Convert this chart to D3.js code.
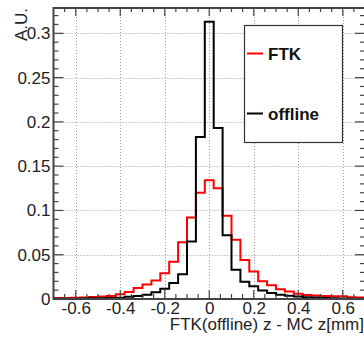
<!DOCTYPE html>
<html>
<head>
<meta charset="utf-8">
<script src="https://cdn.jsdelivr.net/npm/d3@7"></script>
<style>
html,body{margin:0;padding:0;background:#fff;}
svg{display:block;font-family:"Liberation Sans",Arial,Helvetica,sans-serif;}
</style>
</head>
<body>
<svg id="chart" width="364" height="338"></svg>
<script>
// ---- data ----
const binEdges = [-0.70,-0.66,-0.62,-0.58,-0.54,-0.50,-0.46,-0.42,-0.38,-0.34,-0.30,-0.26,-0.22,-0.18,-0.14,-0.10,-0.06,-0.02,
                   0.02,0.06,0.10,0.14,0.18,0.22,0.26,0.30,0.34,0.38,0.42,0.46,0.50,0.54,0.58,0.62,0.66,0.70];
const ftkValues = [0.0012,0.0012,0.0015,0.0018,0.0022,0.0028,0.0035,0.0055,0.008,0.0125,0.0165,0.021,0.029,0.042,0.064,0.092,0.120,
                   0.134,0.125,0.094,0.067,0.044,0.031,0.020,0.0155,0.011,0.0085,0.006,0.0045,0.004,0.0034,0.0032,0.003,0.002,0.0018];
const offlineValues = [0.0003,0.0003,0.0004,0.0005,0.0008,0.0008,0.001,0.0015,0.0025,0.0035,0.0048,0.0075,0.0115,0.018,0.028,0.065,0.183,
                   0.313,0.193,0.072,0.033,0.0195,0.0145,0.0095,0.0068,0.0048,0.0036,0.0027,0.002,0.0018,0.001,0.0008,0.0005,0.0004,0.0003];
const seriesNames = ["FTK","offline"];
const seriesColors = ["#ff0000","#000000"];
const xTickValues = [-0.6,-0.4,-0.2,0,0.2,0.4,0.6];
const xTickLabels = ["-0.6","-0.4","-0.2","0","0.2","0.4","0.6"];
const yTickValues = [0,0.05,0.1,0.15,0.2,0.25,0.3];
const yTickLabels = ["0","0.05","0.1","0.15","0.2","0.25","0.3"];
const xTitle = "FTK(offline) z - MC z[mm]";
const yTitle = "A.U.";

// ---- layout ----
const L = 53.5, R = 365, T = 8, B = 299;
const x = d3.scaleLinear().domain([-0.7, 0.7]).range([L, R]);
const y = d3.scaleLinear().domain([0, 0.3286]).range([B, T]);
const svg = d3.select("#chart");
const axisColor = "#444";
const textColor = "#222";

// grid
const grid = svg.append("g").attr("stroke", "#9a9a9a").attr("stroke-width", 1).attr("stroke-dasharray", "1,2");
xTickValues.forEach(v => grid.append("line").attr("x1", Math.round(x(v)) + 0.5).attr("x2", Math.round(x(v)) + 0.5).attr("y1", T).attr("y2", B));
yTickValues.filter(v => v > 0).forEach(v => grid.append("line").attr("x1", L).attr("x2", R).attr("y1", Math.round(y(v)) + 0.5).attr("y2", Math.round(y(v)) + 0.5));

// clip
svg.append("clipPath").attr("id", "clip").append("rect").attr("x", L).attr("y", T).attr("width", R - L).attr("height", B - T + 1);

// histograms
const line = d3.line().x(d => x(d[0])).y(d => y(d[1]));
function histPts(vals) {
  const pts = [];
  vals.forEach((v, i) => { pts.push([binEdges[i], v]); pts.push([binEdges[i + 1], v]); });
  return pts;
}
const hg = svg.append("g").attr("clip-path", "url(#clip)");
[ftkValues, offlineValues].forEach((vals, k) => {
  hg.append("path").attr("d", line(histPts(vals))).attr("fill", "none")
    .attr("stroke", seriesColors[k]).attr("stroke-width", 2).attr("stroke-linejoin", "miter");
});

// axes ticks (ROOT style, inward on all four sides)
const tk = svg.append("g").attr("stroke", axisColor).attr("stroke-width", 1.2);
const yMinor = d3.range(0, 0.33, 0.01);
yMinor.forEach(v => {
  const major = Math.abs(Math.round(v * 100) % 5) === 0;
  const len = major ? 10 : 5;
  const yy = y(v);
  tk.append("line").attr("x1", L).attr("x2", L + len).attr("y1", yy).attr("y2", yy);
  tk.append("line").attr("x1", R).attr("x2", R - len).attr("y1", yy).attr("y2", yy);
});
const xMinor = d3.range(-0.65, 0.7, 0.05);
xMinor.forEach(v => {
  const major = Math.abs(Math.round(v * 100) % 20) === 0;
  const xx = x(v);
  tk.append("line").attr("x1", xx).attr("x2", xx).attr("y1", B).attr("y2", B - (major ? 9 : 5));
  tk.append("line").attr("x1", xx).attr("x2", xx).attr("y1", T).attr("y2", T + (major ? 8 : 4));
});

// frame
svg.append("rect").attr("x", L).attr("y", T).attr("width", R - L).attr("height", B - T)
  .attr("fill", "none").attr("stroke", axisColor).attr("stroke-width", 2);

// tick labels
const yAxis = d3.axisLeft(y).tickValues(yTickValues).tickFormat((d, i) => yTickLabels[i]).tickSize(0).tickPadding(3);
const gy = svg.append("g").attr("transform", `translate(${L},0)`).call(yAxis);
gy.select(".domain").remove();
gy.selectAll("text").attr("font-size", 17).attr("fill", textColor).attr("font-family", "Liberation Sans, Arial, sans-serif");

const xAxis = d3.axisBottom(x).tickValues(xTickValues).tickFormat((d, i) => xTickLabels[i]).tickSize(0).tickPadding(3);
const gx = svg.append("g").attr("transform", `translate(0,${B})`).call(xAxis);
gx.select(".domain").remove();
gx.selectAll("text").attr("font-size", 17).attr("fill", textColor).attr("font-family", "Liberation Sans, Arial, sans-serif");

// axis titles
svg.append("text").attr("x", 364).attr("y", 330).attr("text-anchor", "end")
  .attr("font-size", 17).attr("fill", textColor).text(xTitle);
svg.append("text").attr("transform", `translate(27,${T}) rotate(-90)`).attr("text-anchor", "end")
  .attr("font-size", 17).attr("fill", textColor).text(yTitle);

// legend
const lg = svg.append("g");
lg.append("rect").attr("x", 244.5).attr("y", 25.5).attr("width", 98).attr("height", 117)
  .attr("fill", "#fff").attr("stroke", "#333").attr("stroke-width", 1.2);
const legY = [53.5, 113.5];
seriesNames.forEach((n, i) => {
  lg.append("line").attr("x1", 247).attr("x2", 263).attr("y1", legY[i]).attr("y2", legY[i])
    .attr("stroke", seriesColors[i]).attr("stroke-width", 2);
  lg.append("text").attr("x", 268).attr("y", legY[i] + 6.5).attr("font-size", 17).attr("font-weight", "bold")
    .attr("fill", "#111").text(n);
});
</script>
</body>
</html>
